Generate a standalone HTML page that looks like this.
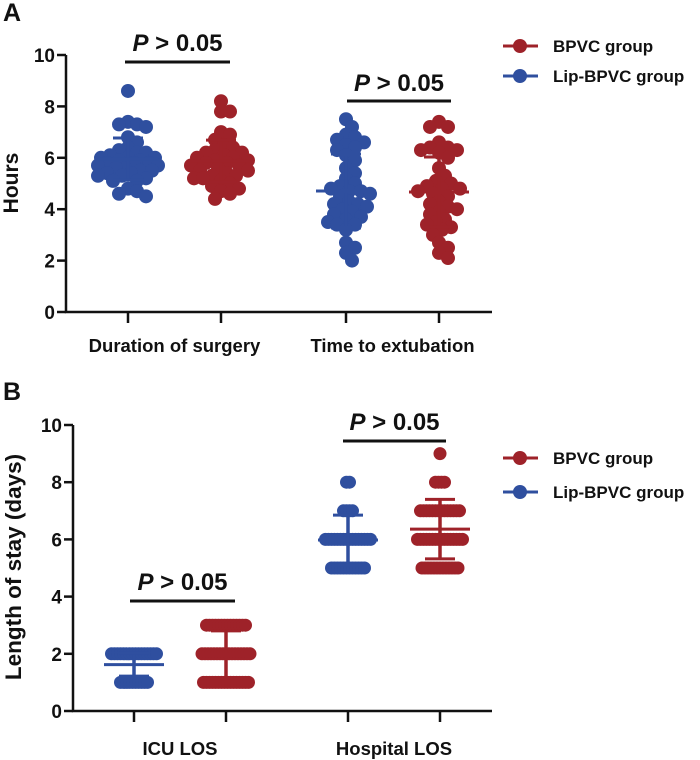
<!DOCTYPE html>
<html><head><meta charset="utf-8"><style>
html,body{margin:0;padding:0;background:#fff;width:700px;height:760px;overflow:hidden}
svg text{font-family:"Liberation Sans",Arial,sans-serif;font-weight:bold;fill:#111}
</style></head><body>
<svg id="c" width="700" height="760" xmlns="http://www.w3.org/2000/svg"></svg>
<script>
// Panel A data
const aCategories = ["Duration of surgery","Time to extubation"];
const aGroups = ["Lip-BPVC group","BPVC group"];
const aDurBlue = [8.6,7.4,7.3,7.3,7.2,6.8,6.6,6.4,6.3,6.2,6.2,6.1,6.0,6.0,6.0,5.9,5.9,5.8,5.8,5.8,5.7,5.7,5.6,5.6,5.5,5.5,5.4,5.4,5.3,5.3,5.2,5.1,5.1,4.8,4.7,4.6,4.5];
const aDurRed = [8.2,7.8,7.8,7.0,6.9,6.7,6.5,6.4,6.3,6.2,6.2,6.1,6.0,6.0,5.9,5.9,5.8,5.8,5.7,5.7,5.6,5.5,5.5,5.4,5.3,5.3,5.2,5.2,5.1,5.0,4.9,4.8,4.7,4.6,4.4];
const aExtBlue = [7.5,7.2,6.9,6.8,6.7,6.6,6.5,6.4,6.3,6.1,5.9,5.6,5.4,5.2,5.0,4.9,4.8,4.7,4.7,4.6,4.5,4.3,4.2,4.2,4.1,4.0,3.9,3.8,3.7,3.6,3.5,3.4,3.4,3.2,2.7,2.5,2.3,2.0];
const aExtRed = [7.4,7.2,7.2,6.6,6.4,6.4,6.3,6.3,6.2,6.0,5.6,5.3,5.1,5.0,4.9,4.8,4.8,4.7,4.6,4.5,4.3,4.2,4.1,4.0,3.9,3.8,3.6,3.5,3.4,3.3,3.2,3.0,2.7,2.5,2.3,2.1];
const aMeans = [5.95,5.88,4.71,4.67];
const aSDs = [0.82,0.81,1.44,1.36];
const aTicks = [0,2,4,6,8,10];
// Panel B data
const bCategories = ["ICU LOS","Hospital LOS"];
const bValues = [1,2,3,5,6,7,8,9];
const bIcuBlueCounts = [10,16,0,0,0,0,0,0];
const bIcuRedCounts = [16,17,14,0,0,0,0,0];
const bHospBlueCounts = [0,0,0,12,16,4,2,0];
const bHospRedCounts = [0,0,0,13,16,14,4,1];
const bMeans = [1.62,1.96,5.98,6.36];
const bSDs = [0.4,0.84,0.87,1.04];
const bTicks = [0,2,4,6,8,10];

const BLUE="#2f4f9f", RED="#9e2229";
const svg=document.getElementById('c');
const NS="http://www.w3.org/2000/svg";
function el(tag,attrs,parent){const e=document.createElementNS(NS,tag);for(const k in attrs)e.setAttribute(k,attrs[k]);(parent||svg).appendChild(e);return e;}
function txt(s,attrs,parent){const t=el('text',attrs,parent);t.textContent=s;return t;}

function drawPanel(cfg){
  const g=el('g',{});
  
  
  const y=v=>cfg.y0-(v/10)*(cfg.y0-cfg.y10);
  const ax=el('path',{d:`M${cfg.ax},${cfg.y10}V${cfg.y0}H${cfg.axEnd}`,stroke:'#111','stroke-width':2.5,fill:'none'},g);
  
  
  cfg.ticks.forEach(t=>{
    el('line',{x1:cfg.ax-9,x2:cfg.ax,y1:y(t),y2:y(t),stroke:'#111','stroke-width':2.5},g);
    const l=txt(String(t),{x:cfg.ax-11,y:y(t)+7,'text-anchor':'end','font-size':19},g);
    
    
  });
  cfg.xs.forEach(x=>el('line',{x1:x,x2:x,y1:cfg.y0,y2:cfg.y0+11,stroke:'#111','stroke-width':2.5},g));
  cfg.cats.forEach((c,i)=>{
    const l=txt(c,{x:(cfg.xs[2*i]+cfg.xs[2*i+1])/2,y:cfg.catY,'text-anchor':'middle','font-size':18.5},g);
    
    
  });
  const yt=txt(cfg.ytitle,{transform:`translate(${cfg.ytX},${cfg.ytY}) rotate(-90)`,'text-anchor':'middle','font-size':cfg.ytSize},g);
  
  
  const pl=txt(cfg.letter,{x:3,y:cfg.letterY,'font-size':25},g);
  
  
  return {g,y};
}
function errBar(g,x,m,sd,y,col,hw){
  const e=el('g',{},g);
  
  
  el('line',{x1:x,x2:x,y1:y(m+sd),y2:y(m-sd),stroke:col,'stroke-width':3.5},e);
  el('line',{x1:x-hw,x2:x+hw,y1:y(m),y2:y(m),stroke:col,'stroke-width':3},e);
  [m+sd,m-sd].forEach(v=>el('line',{x1:x-hw/2,x2:x+hw/2,y1:y(v),y2:y(v),stroke:col,'stroke-width':3},e));
}
function sig(g,x1,x2,ly,ty){
  el('line',{x1,x2,y1:ly,y2:ly,stroke:'#111','stroke-width':3},g);
  const t=el('text',{x:(x1+x2)/2,y:ty,'text-anchor':'middle','font-size':24},g);
  
  
  const i=document.createElementNS(NS,'tspan');i.setAttribute('font-style','italic');i.textContent='P';t.appendChild(i);
  t.appendChild(document.createTextNode(' > 0.05'));
}
function legend(g,y1,y2){
  [[y1,RED,'BPVC group'],[y2,BLUE,'Lip-BPVC group']].forEach(([yy,col,lab])=>{
    const e=el('g',{},g);
    
    
    el('line',{x1:503,x2:538,y1:yy,y2:yy,stroke:col,'stroke-width':3},e);
    el('circle',{cx:520,cy:yy,r:7,fill:col},e);
    txt(lab,{x:553,y:yy+6,'font-size':17},e);
  });
}
// beeswarm layout (partial overlap, like the reference)
function swarm(g,cx,vals,y,col,r){
  const placed=[];
  vals.forEach(v=>{
    const py=y(v);let off=0,best=null,bestD=-1;
    for(let k=0;k<21;k++){
      const cand=(k%2?1:-1)*Math.ceil(k/2)*3;
      const d=Math.min(99,...placed.map(p=>Math.hypot(p[0]-(cx+cand),p[1]-py)));
      if(d>=r*1.25){best=cand;break;}
      if(d>bestD){bestD=d;off=cand;}
    }
    if(best!==null)off=best;
    placed.push([cx+off,py]);
    const c=el('circle',{cx:cx+off,cy:py,r,fill:col},g);
    
    
  });
}
// Panel A
const A=drawPanel({name:'panel-a',ax:66,axEnd:492,y0:312,y10:55,ticks:aTicks,xs:[128,221,346,439],cats:aCategories,catY:352,ytitle:'Hours',ytX:18,ytY:183,ytSize:21,letter:'A',letterY:21});
[[128,aDurBlue,BLUE],[221,aDurRed,RED],[346,aExtBlue,BLUE],[439,aExtRed,RED]].forEach((s,i)=>{
  swarm(A.g,s[0],s[1],A.y,s[2],7);
});
[[128,BLUE],[221,RED],[346,BLUE],[439,RED]].forEach((s,i)=>errBar(A.g,s[0],aMeans[i],aSDs[i],A.y,s[1],30));
sig(A.g,125,230,62,51);sig(A.g,347,451,101,91);
legend(A.g,46,76);
// Panel B
const B=drawPanel({name:'panel-b',ax:73,axEnd:492,y0:711,y10:425,ticks:bTicks,xs:[134,226,348,440],cats:bCategories,catY:755,ytitle:'Length of stay (days)',ytX:21,ytY:567,ytSize:22.5,letter:'B',letterY:400});
[[134,bIcuBlueCounts,BLUE],[226,bIcuRedCounts,RED],[348,bHospBlueCounts,BLUE],[440,bHospRedCounts,RED]].forEach(s=>{
  s[1].forEach((n,j)=>{
    for(let k=0;k<n;k++){
      const off=(k-(n-1)/2)*3;
      const c=el('circle',{cx:s[0]+off,cy:B.y(bValues[j]),r:6.5,fill:s[2]},B.g);
      
      
    }
  });
});
[[134,BLUE],[226,RED],[348,BLUE],[440,RED]].forEach((s,i)=>errBar(B.g,s[0],bMeans[i],bSDs[i],B.y,s[1],30));
sig(B.g,130,235,601,590);sig(B.g,343,446,441,430);
legend(B.g,458,492);
</script>
</body></html>
